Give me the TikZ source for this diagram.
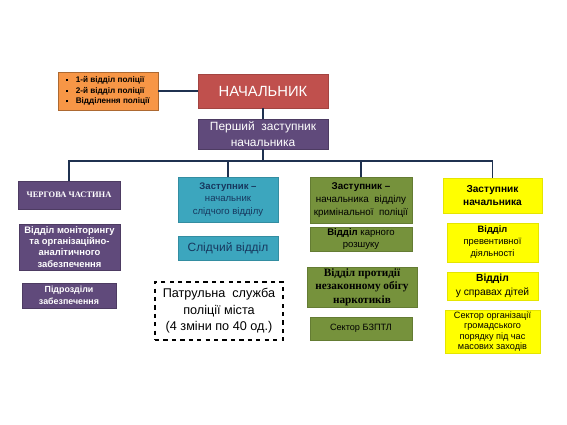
\documentclass[tikz,border=0pt]{standalone}
\usepackage{fontspec}
\setmainfont{Liberation Sans}
\newfontfamily\timesfont{Liberation Serif}
\usepackage{tikz}
\usetikzlibrary{shadows}

\definecolor{chiefred}{HTML}{C0504D}
\definecolor{lilac}{HTML}{604A7B}
\definecolor{teal}{HTML}{3CA6BE}
\definecolor{olive}{HTML}{76923C}
\definecolor{lemon}{HTML}{FFFF00}
\definecolor{peach}{HTML}{F79646}
\definecolor{navy}{HTML}{1F3150}
\definecolor{tealtext}{HTML}{17375E}

\newcommand{\sqbullet}{\rule[0.35ex]{0.5ex}{0.5ex}\hspace{0.9em}}
\newcommand{\fs}[1]{\fontsize{#1}{1.3\dimexpr#1\relax}\selectfont}

\tikzset{
  box/.style={align=center, inner sep=1pt, drop shadow={opacity=0.3, shadow xshift=1pt, shadow yshift=-1pt}},
  lilacbox/.style={box, fill=lilac, draw=lilac!80!black, text=white},
  tealbox/.style={box, fill=teal, draw=teal!85!black, text=tealtext},
  olivebox/.style={box, fill=olive, draw=olive!85!black, text=black},
  lemonbox/.style={box, fill=lemon, draw=lemon!90!black, text=black},
  link/.style={draw=navy, line width=1.4pt}
}

\begin{document}
\begin{tikzpicture}[x=0.025cm, y=-0.025cm]
\useasboundingbox (0,0) rectangle (567,425);

% top
\node[box, fill=peach, draw=peach!70!black, align=left, text=black, minimum width=2.5cm, minimum height=0.95cm, font=\fs{5.8pt}\bfseries] (units) at (108,91)
  {\sqbullet 1-й відділ поліції\\ \sqbullet 2-й відділ поліції\\ \sqbullet Відділення поліції};
\node[box, fill=chiefred, draw=chiefred!85!black, text=white, minimum width=3.25cm, minimum height=0.85cm, font=\fs{10.5pt}] (chief) at (263,91) {НАЧАЛЬНИК};
\node[lilacbox, minimum width=3.25cm, minimum height=0.75cm, font=\fs{8.5pt}] (first) at (263,134) {Перший\ \ заступник\\ начальника};
\coordinate (bus) at (263,161);

% left column
\node[lilacbox, minimum width=2.55cm, minimum height=0.7cm, font=\timesfont\fs{6pt}\bfseries] (duty) at (69,195) {ЧЕРГОВА ЧАСТИНА};
\node[lilacbox, minimum width=2.525cm, minimum height=1.15cm, font=\fontsize{6.7pt}{8pt}\selectfont\bfseries] (monitor) at (69.5,247) {Відділ моніторингу\\ та організаційно-\\ аналітичного\\ забезпечення};
\node[lilacbox, minimum width=2.35cm, minimum height=0.625cm, font=\fs{6.3pt}\bfseries] (support) at (69,295.5) {Підрозділи\\ забезпечення};

% investigation
\node[tealbox, minimum width=2.5cm, minimum height=1.125cm, font=\fs{6.8pt}] (invdep) at (228,199.5) {\textbf{Заступник –}\\ начальник\\ слідчого відділу};
\node[tealbox, minimum width=2.5cm, minimum height=0.6cm, font=\fs{8.5pt}] (invdept) at (228,248) {Слідчий відділ};
\node[draw=black, dashed, line width=0.8pt, align=center, minimum width=3.2cm, minimum height=1.45cm, font=\fs{9pt}] (patrol) at (219,311) {Патрульна\ \ служба\\ поліції міста\\ (4 зміни по 40 од.)};

% criminal police
\node[olivebox, minimum width=2.55cm, minimum height=1.15cm, font=\fs{7pt}] (crimdep) at (361,200) {\textbf{Заступник –}\\ начальника\ \ відділу\\ кримінальної\ \ поліції};
\node[olivebox, minimum width=2.55cm, minimum height=0.6cm, font=\fs{6.8pt}] (search) at (361,239) {\textbf{Відділ} карного\\ розшуку};
\node[olivebox, minimum width=2.75cm, minimum height=1.0cm, font=\timesfont\fontsize{8pt}{9.6pt}\selectfont\bfseries] (drugs) at (362,287) {Відділ протидії\\ незаконному обігу\\ наркотиків};
\node[olivebox, minimum width=2.55cm, minimum height=0.575cm, font=\fs{6.5pt}] (bzptl) at (361,328.5) {Сектор БЗПТЛ};

% prevention
\node[lemonbox, minimum width=2.475cm, minimum height=0.875cm, font=\fs{7.2pt}\bfseries] (dep) at (492.5,195.5) {Заступник\\ начальника};
\node[lemonbox, minimum width=2.275cm, minimum height=0.975cm, font=\fs{6.6pt}] (prev) at (492.5,242.5) {\textbf{Відділ}\\ превентивної\\ діяльності};
\node[lemonbox, minimum width=2.275cm, minimum height=0.7cm, font=\fs{7.3pt}] (kids) at (492.5,286) {\textbf{Відділ}\\ у справах дітей};
\node[lemonbox, minimum width=2.375cm, minimum height=1.075cm, font=\fontsize{6.5pt}{7.4pt}\selectfont] (sector) at (492.5,331.5) {Сектор організації\\ громадського\\ порядку під час\\ масових заходів};

% connectors
\draw[link] (units.east) -- (chief.west);
\draw[link] (chief.south) -- (first.north);
\draw[link] (first.south) -- (bus);
\draw[link] (duty.north) |- (bus) -| (dep.north);
\draw[link] (bus) -| (invdep.north);
\draw[link] (bus) -| (crimdep.north);
\end{tikzpicture}
\end{document}
